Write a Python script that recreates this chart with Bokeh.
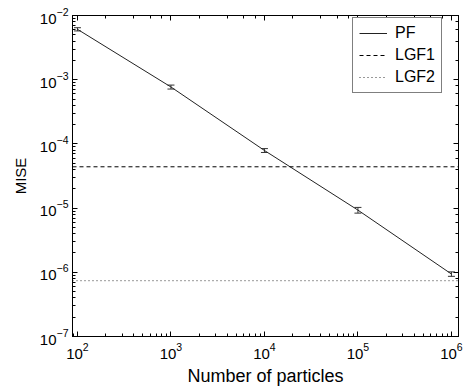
import numpy as np
from bokeh.plotting import figure
from bokeh.models import (ColumnDataSource, Whisker, TeeHead, LogAxis, Legend, LegendItem,
                          Range1d, CustomJSTickFormatter)
from bokeh.embed import file_html
from bokeh.resources import INLINE

particles = [1e2, 1e3, 1e4, 1e5, 1e6]
pf_mise = [6.1e-3, 7.7e-4, 7.9e-5, 9.3e-6, 9.4e-7]
pf_err = [0.35e-3, 0.55e-4, 0.55e-5, 0.95e-6, 0.75e-7]
lgf1_mise = 4.4e-5
lgf2_mise = 7.4e-7
x_limits = [88.5, 1.19e6]
y_limits = [1e-7, 1e-2]

FONT = "Liberation Sans"

p = figure(width=464, height=388, x_axis_type="log", y_axis_type="log",
           x_range=Range1d(*x_limits), y_range=Range1d(*y_limits),
           output_backend="svg", toolbar_location=None,
           min_border_left=72, min_border_right=6, min_border_top=15, min_border_bottom=50)
p.background_fill_color = "white"
p.border_fill_color = "white"
p.outline_line_color = "black"
p.outline_line_width = 1
p.xgrid.visible = False
p.ygrid.visible = False

src = ColumnDataSource(dict(x=particles, y=pf_mise,
                            lo=[v - e for v, e in zip(pf_mise, pf_err)],
                            hi=[v + e for v, e in zip(pf_mise, pf_err)]))

r_pf = p.line("x", "y", source=src, line_color="#222222", line_width=1)
w = Whisker(base="x", lower="lo", upper="hi", source=src, line_color="#333333", line_width=1,
            lower_head=TeeHead(size=7, line_color="#333333", line_width=1),
            upper_head=TeeHead(size=7, line_color="#333333", line_width=1))
p.add_layout(w)

r_l1 = p.line(x=x_limits, y=[lgf1_mise, lgf1_mise], line_color="black", line_width=1,
              line_dash="4 3")
r_l2 = p.line(x=x_limits, y=[lgf2_mise, lgf2_mise], line_color="#333333", line_width=1,
              line_dash="1 3")

def style_axis(ax, labels=True):
    ax.axis_line_color = "black"
    ax.major_tick_in = 5
    ax.major_tick_out = 0
    ax.minor_tick_in = 3
    ax.minor_tick_out = 0
    ax.major_tick_line_color = "black"
    ax.minor_tick_line_color = "black"
    if labels:
        ax.major_label_text_font = FONT
        ax.major_label_text_font_size = "15px"
        ax.major_label_text_color = "black"
        ax.axis_label_text_font = FONT
        ax.axis_label_text_font_style = "normal"
        ax.axis_label_text_color = "black"
    else:
        ax.formatter = CustomJSTickFormatter(code="return ''")
        ax.major_label_text_font_size = "1px"
        ax.major_label_text_color = None
        ax.major_label_standoff = 0

style_axis(p.xaxis[0])
style_axis(p.yaxis[0])
p.xaxis[0].axis_label = "Number of particles"
p.xaxis[0].axis_label_text_font_size = "18px"
p.xaxis[0].major_label_standoff = 6
p.xaxis[0].axis_label_standoff = 4
p.yaxis[0].axis_label = "MISE"
p.yaxis[0].axis_label_text_font_size = "15px"
p.yaxis[0].major_label_standoff = 4
p.yaxis[0].axis_label_standoff = 8

top_ax = LogAxis()
right_ax = LogAxis()
style_axis(top_ax, labels=False)
style_axis(right_ax, labels=False)
p.add_layout(top_ax, "above")
p.add_layout(right_ax, "right")

legend = Legend(items=[LegendItem(label="PF", renderers=[r_pf]),
                       LegendItem(label="LGF1", renderers=[r_l1]),
                       LegendItem(label="LGF2", renderers=[r_l2])],
                location=(280, 243))
legend.label_text_font = FONT
legend.label_text_font_size = "16px"
legend.label_text_color = "black"
legend.glyph_width = 28
legend.glyph_height = 18
legend.label_height = 18
legend.label_width = 40
legend.label_standoff = 8
legend.spacing = 4
legend.padding = 6
legend.margin = 0
legend.border_line_color = "black"
legend.border_line_width = 1
legend.background_fill_color = "white"
legend.background_fill_alpha = 1
p.add_layout(legend)

open("out.html", "w").write(file_html(p, INLINE))
